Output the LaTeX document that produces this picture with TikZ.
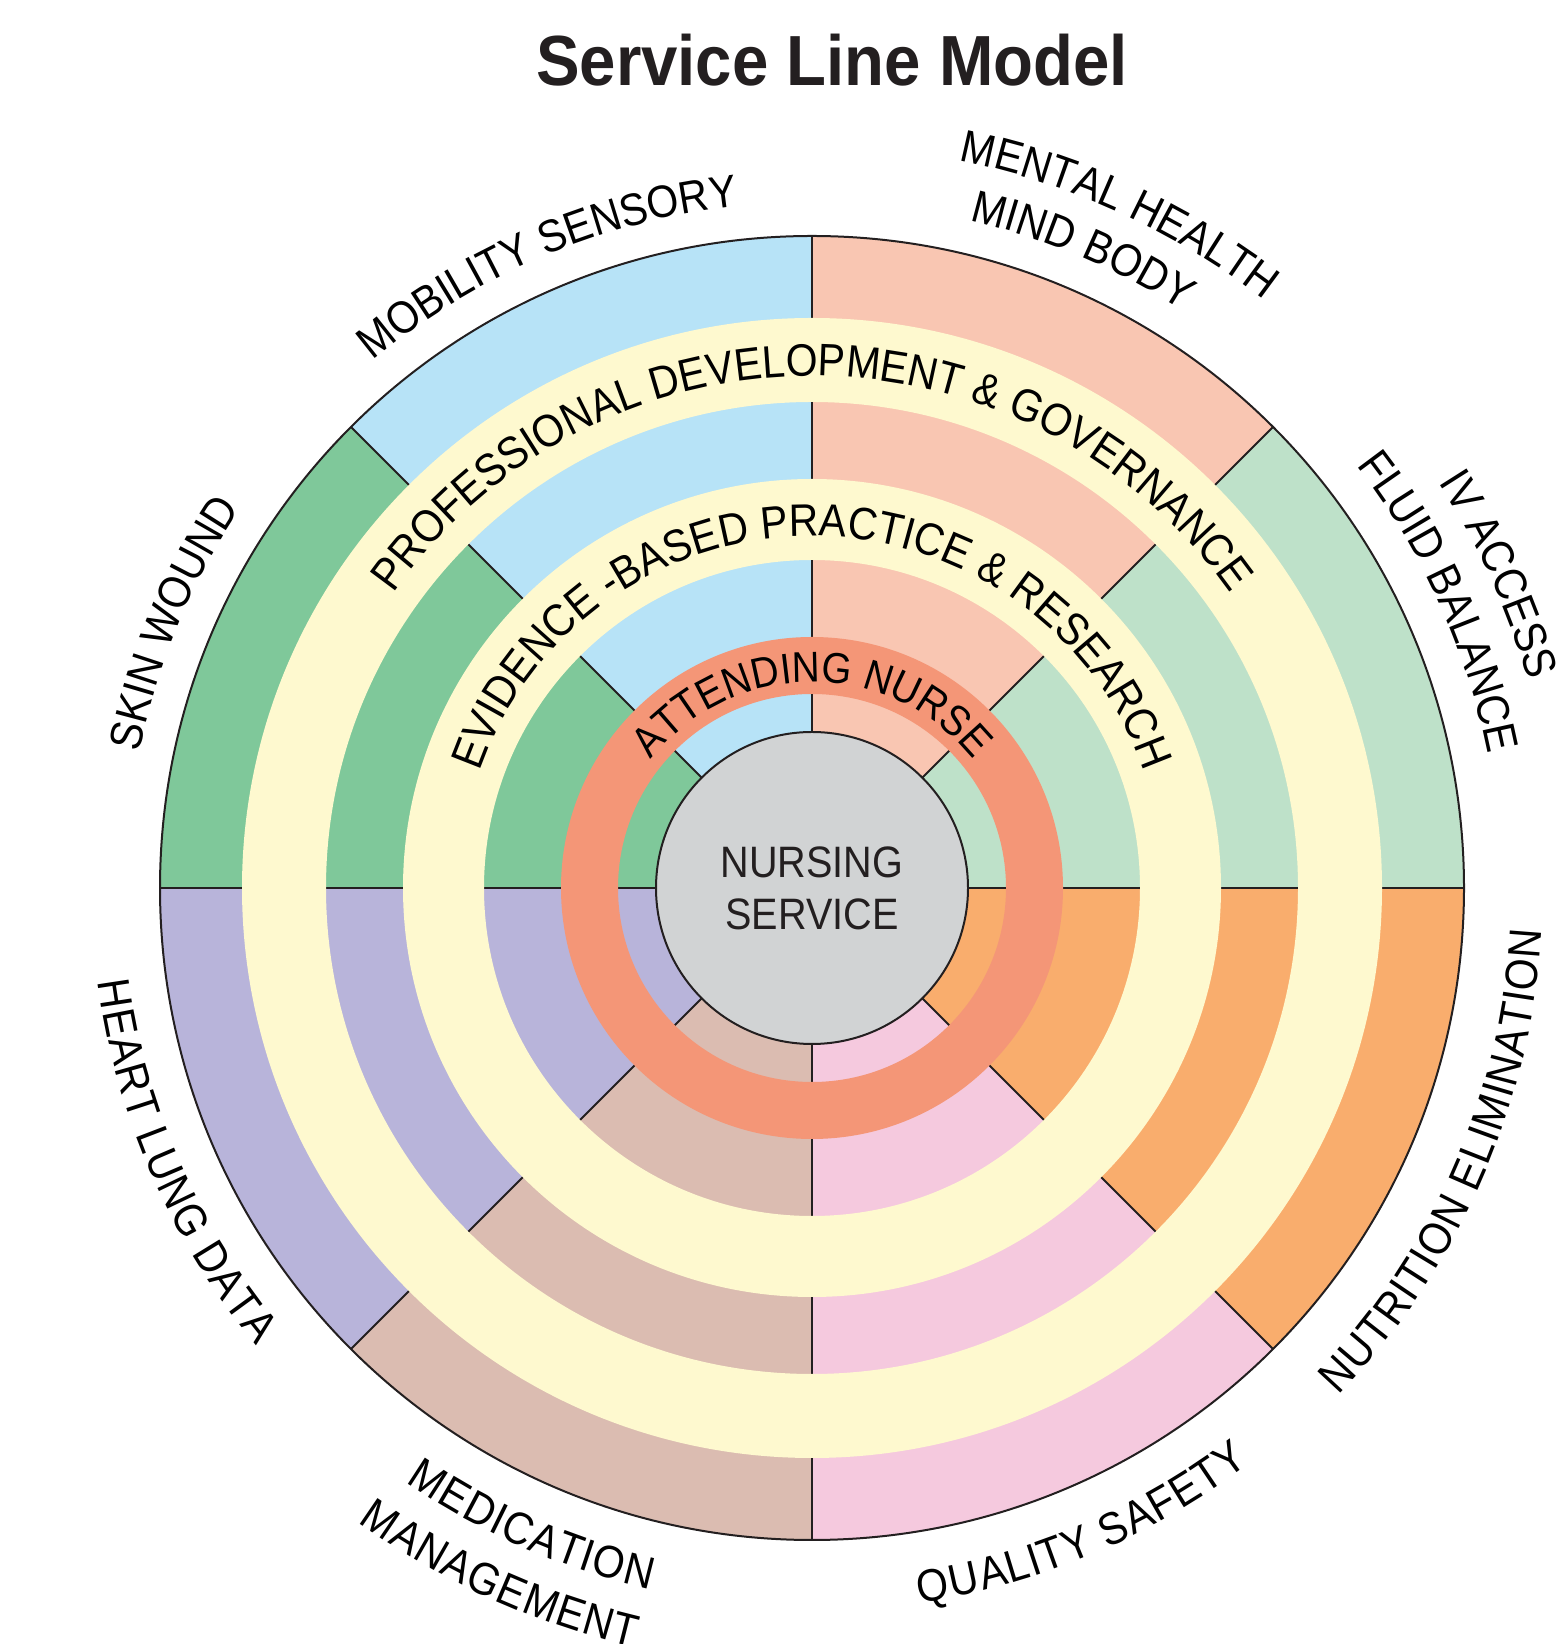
\documentclass[tikz,border=0pt]{standalone}
\usepackage{fontspec}
\usetikzlibrary{decorations.text,calc}
\newfontfamily\titlefont[FakeStretch=0.92]{Liberation Sans}
\newfontfamily\lblfont[FakeStretch=0.9]{Liberation Sans}
\definecolor{ink}{HTML}{231F20}
\definecolor{sky}{HTML}{B7E3F7}
\definecolor{peach}{HTML}{F9C6B2}
\definecolor{mint}{HTML}{BEE1C9}
\definecolor{leaf}{HTML}{7FC89A}
\definecolor{lavender}{HTML}{B8B4DA}
\definecolor{tan}{HTML}{DBBCB1}
\definecolor{rose}{HTML}{F5C9DE}
\definecolor{apricot}{HTML}{F9AD6D}
\definecolor{cream}{HTML}{FEF9CF}
\definecolor{coral}{HTML}{F49677}
\definecolor{hubgray}{HTML}{D1D3D4}

% clockwise label, letters standing outward on the arc:
% [font size] baseline radius, middle angle, text
\newcommand\toplabel[4][45.5]{{\lblfont\fontsize{#1}{50}\selectfont\color{ink}%
  \path[decorate, decoration={text along path, text align=center, text={#4}}]
    ($(C)+(#3+85:#2)$) arc[start angle=#3+85, end angle=#3-85, radius=#2];}}
% counter-clockwise label, letters hanging from the arc (cap line on the arc):
% arc radius, middle angle, text
\newcommand\bottomlabel[3]{{\lblfont\fontsize{45.5}{50}\selectfont\color{ink}%
  \path[decorate, decoration={text along path, text align=center, raise=-34pt, text={#3}}]
    ($(C)+(#2-85:#1)$) arc[start angle=#2-85, end angle=#2+85, radius=#1];}}

\begin{document}
\begin{tikzpicture}[x=1pt,y=1pt,line join=round,
    divider/.style={draw=ink,line width=1.8pt},
    rim/.style={draw=ink,line width=2pt}]
\useasboundingbox (0,0) rectangle (1561,1644);
\coordinate (C) at (812,756);

% eight coloured sectors
\foreach \a/\c in {0/mint,45/peach,90/sky,135/leaf,180/lavender,225/tan,270/rose,315/apricot}{
  \fill[\c] (C) -- ++(\a:652) arc[start angle=\a, end angle=\a+45, radius=652] -- cycle;
}
% sector dividers
\foreach \a in {0,45,...,315}{
  \draw[divider] (C) -- ++(\a:652);
}
% concentric rings
\fill[cream, even odd rule] (C) circle[radius=570] (C) circle[radius=486];
\fill[cream, even odd rule] (C) circle[radius=409] (C) circle[radius=328];
\fill[coral, even odd rule] (C) circle[radius=251] (C) circle[radius=194];
\draw[rim] (C) circle[radius=652];

% hub
\node[circle, fill=hubgray, rim, minimum size=312pt, inner sep=0pt, align=center,
      text=ink, font=\lblfont\fontsize{44}{52}\selectfont] (hub) at (C) {NURSING\\SERVICE};

% title
\node[anchor=base, text=ink, font=\titlefont\bfseries\fontsize{71}{80}\selectfont]
  (title) at (832,1558) {Service Line Model};

% ring labels
\toplabel{512}{90}{PROFESSIONAL DEVELOPMENT {\&} GOVERNANCE}
\toplabel{352}{90}{EVIDENCE -BASED PRACTICE {\&} RESEARCH}
\toplabel[43]{206}{90}{ATTENDING NURSE}

% sector labels
\toplabel{686}{113}{MOBILITY SENSORY}
\toplabel{742}{65.5}{MENTAL HEALTH}
\toplabel{686}{67}{MIND BODY}
\toplabel{746}{24.5}{IV ACCESS}
\toplabel{689}{24.5}{FLUID BALANCE}
\toplabel{686}{157.5}{SKIN WOUND}
\bottomlabel{686}{203.5}{HEART LUNG DATA}
\bottomlabel{686}{246.3}{MEDICATION}
\bottomlabel{746}{245.6}{MANAGEMENT}
\bottomlabel{689}{292.9}{QUALITY SAFETY}
\bottomlabel{697}{336.4}{NUTRITION ELIMINATION}
\end{tikzpicture}
\end{document}
